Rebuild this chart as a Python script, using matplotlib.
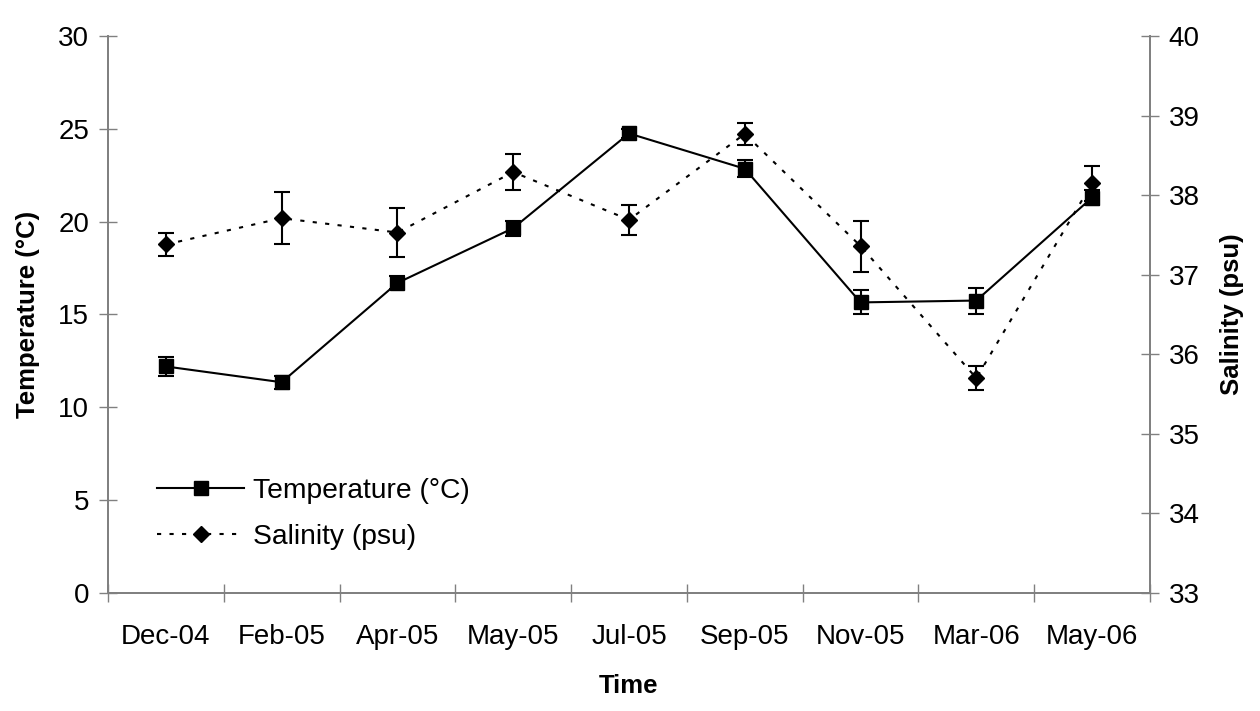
import numpy as np
import matplotlib
matplotlib.use("Agg")
import matplotlib.pyplot as plt
from matplotlib.ticker import FixedLocator, NullFormatter

# data
months = ["Dec-04", "Feb-05", "Apr-05", "May-05", "Jul-05",
          "Sep-05", "Nov-05", "Mar-06", "May-06"]
temperature = [12.2, 11.35, 16.7, 19.65, 24.75, 22.85, 15.65, 15.75, 21.3]
temp_err = [0.5, 0.35, 0.35, 0.4, 0.25, 0.45, 0.65, 0.7, 0.4]
salinity = [37.38, 37.71, 37.53, 38.29, 37.69, 38.77, 37.36, 35.70, 38.15]
sal_err = [0.15, 0.33, 0.31, 0.23, 0.19, 0.14, 0.32, 0.15, 0.22]

plt.rcParams['font.family'] = ['Liberation Sans', 'DejaVu Sans']
axis_grey = '#808080'

fig = plt.figure(figsize=(12.6, 7.11), dpi=100)
ax = fig.add_axes([0.0857, 0.166, 0.827, 0.7834])
ax2 = ax.twinx()

x = np.arange(len(months))

# temperature (left axis)
l1 = ax.errorbar(x, temperature, yerr=temp_err, color='black', lw=1.5,
                 marker='s', markersize=10.5, capsize=6, capthick=1.5,
                 elinewidth=1.5)

# salinity (right axis)
l2 = ax2.errorbar(x, salinity, yerr=sal_err, color='black', lw=1.5,
                  ls=(0, (2, 4)), marker='D', markersize=8, capsize=6,
                  capthick=1.5, elinewidth=1.5)

ax.set_xlim(-0.5, len(months) - 0.5)
ax.set_ylim(0, 30)
ax2.set_ylim(33, 40)
ax.set_yticks(np.arange(0, 31, 5))
ax2.set_yticks(np.arange(33, 41, 1))

# category labels in the middle, tick marks between categories
ax.set_xticks(x)
ax.set_xticklabels(months)
ax.xaxis.set_minor_locator(FixedLocator(np.arange(-0.5, len(months), 1.0)))
ax.xaxis.set_minor_formatter(NullFormatter())
ax.tick_params(axis='x', which='major', length=0, pad=22, labelsize=20)
ax.tick_params(axis='x', which='minor', direction='inout', length=13,
               width=1, color=axis_grey)
ax.tick_params(axis='y', direction='inout', length=13, width=1,
               color=axis_grey, labelsize=20, pad=7)
ax2.tick_params(axis='y', direction='inout', length=13, width=1,
                color=axis_grey, labelsize=20, pad=7)

for a in (ax, ax2):
    a.spines['top'].set_visible(False)
    for s in ('left', 'right', 'bottom'):
        a.spines[s].set_color(axis_grey)
        a.spines[s].set_linewidth(1.3)

ax.set_xlabel("Time", fontsize=18.5, fontweight='bold')
ax.set_ylabel("Temperature (°C)", fontsize=18.5, fontweight='bold')
ax2.set_ylabel("Salinity (psu)", fontsize=18.5, fontweight='bold',
               rotation=90)
ax.xaxis.set_label_coords(0.5, -0.145)
ax.yaxis.set_label_coords(-0.077, 0.5)
ax2.yaxis.set_label_coords(1.079, 0.5)
ax2.yaxis.label.set_va('center')
ax.yaxis.label.set_va('center')

# legend shows only the series lines, no error bars
leg = ax.legend([l1[0], l2[0]], ['Temperature (°C)', 'Salinity (psu)'],
                loc='upper left', bbox_to_anchor=(0.047, 0.206),
                frameon=False, fontsize=20.3, handlelength=3.1,
                handletextpad=0.3, borderpad=0, borderaxespad=0,
                labelspacing=0.7)

fig.savefig("out.png", dpi=100)
